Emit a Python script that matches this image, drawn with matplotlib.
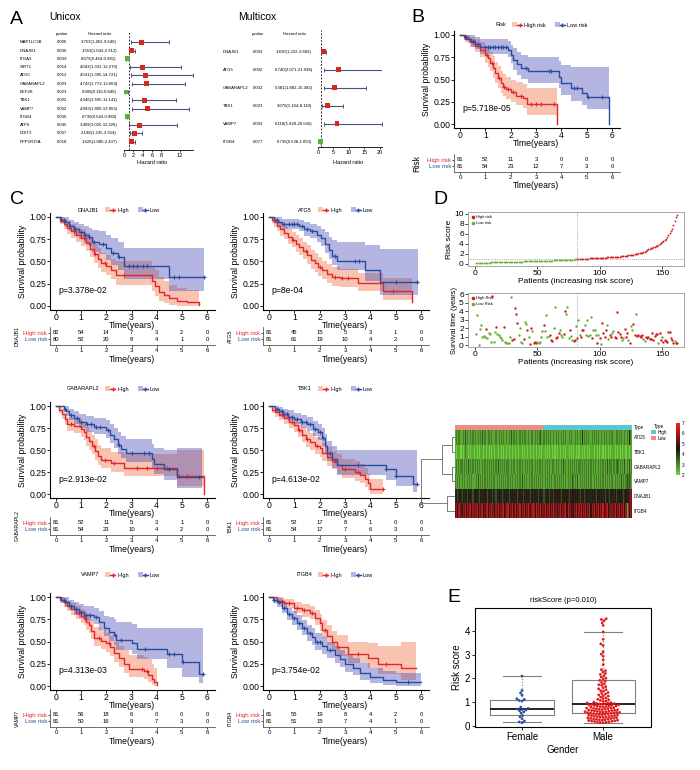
import numpy as np
import matplotlib
matplotlib.use('Agg')
import matplotlib.pyplot as plt
import matplotlib.transforms as mtransforms
from matplotlib.colors import LinearSegmentedColormap, ListedColormap
from matplotlib.patches import Patch
from matplotlib.lines import Line2D
from matplotlib.legend_handler import HandlerTuple
import seaborn as sns

plt.rcParams['font.family'] = ['Liberation Sans Narrow', 'Liberation Sans', 'DejaVu Sans']

# ---------------- A: cox forest data ----------------
uni_genes = ['MAP1LC3B', 'DNAJB1', 'ITGA3', 'SIRT1', 'ATG5', 'GABARAPL2', 'EEF2K',
             'TBK1', 'VAMP7', 'ITGB4', 'ATF6', 'DDIT3', 'PPP1R15A']
uni_p = ['0.006', '0.030', '0.039', '0.014', '0.012', '0.003', '0.023',
         '0.002', '0.002', '0.036', '0.045', '0.007', '0.018']
uni_hr = [3.753, 1.553, 0.675, 4.043, 4.531, 4.742, 0.305, 4.346, 4.993, 0.730, 3.409, 2.198, 1.626]
uni_lo = [1.462, 1.043, 0.464, 1.332, 1.395, 1.772, 0.110, 1.695, 1.800, 0.543, 1.026, 1.235, 1.085]
uni_hi = [9.646, 2.312, 0.981, 12.270, 14.721, 13.064, 0.846, 11.141, 13.853, 0.980, 11.326, 3.914, 2.437]

multi_genes = ['DNAJB1', 'ATG5', 'GABARAPL2', 'TBK1', 'VAMP7', 'ITGB4']
multi_p = ['0.003', '0.002', '0.002', '0.023', '0.003', '0.077']
multi_hr = [1.810, 6.740, 5.381, 3.070, 6.118, 0.735]
multi_lo = [1.222, 2.071, 1.882, 1.164, 1.820, 0.538]
multi_hi = [2.683, 21.938, 15.382, 8.110, 20.566, 1.050]

# ---------------- B / C: Kaplan-Meier data ----------------
b_high = dict(t=[0, .2, .4, .6, .8, 1.0, 1.1, 1.2, 1.3, 1.4, 1.5, 1.6, 1.7, 1.8, 2.0, 2.2, 2.5, 2.65, 3.82],
              s=[1, .96, .92, .88, .83, .78, .74, .69, .63, .57, .52, .46, .42, .39, .36, .32, .29, .22, 0],
              lo=[1, .92, .86, .81, .75, .69, .64, .59, .52, .46, .41, .35, .31, .28, .25, .21, .18, .10, 0],
              hi=[1, 1, .98, .96, .92, .88, .85, .81, .76, .70, .65, .60, .56, .53, .50, .47, .45, .40, 0],
              cens=[.5, 1.05, 1.25, 1.55, 1.75, 1.9, 2.1, 2.4, 2.8, 3.0, 3.2, 3.7])
b_low = dict(t=[0, .15, .3, .45, .6, .8, 1.9, 2.0, 2.1, 2.25, 2.4, 2.7, 3.9, 4.0, 4.4, 4.8, 5.0, 5.87],
             s=[1, .98, .96, .93, .9, .86, .83, .78, .72, .67, .63, .59, .53, .46, .40, .35, .30, 0],
             lo=[1, .94, .91, .87, .84, .79, .75, .68, .61, .55, .51, .46, .40, .33, .26, .21, .17, 0],
             hi=[1, 1, 1, 1, .98, .95, .93, .89, .85, .81, .78, .75, .71, .66, .64, .64, .64, 0],
             cens=[.25, .5, .7, 1.0, 1.1, 1.2, 1.3, 1.4, 1.5, 1.6, 1.7, 1.8, 2.6, 3.5, 3.6, 4.5, 4.6, 5.05, 5.6])
b_n_high = [81, 52, 11, 3, 0, 0, 0]
b_n_low = [81, 54, 23, 12, 7, 3, 0]

dnajb1_high = dict(t=[0, .15, .3, .45, .6, .8, 1.0, 1.2, 1.35, 1.5, 1.65, 1.8, 2.0, 2.2, 2.4, 3.8, 3.95, 4.1, 4.3, 4.5, 4.8, 5.2, 5.7],
                   s=[1, .96, .92, .88, .84, .8, .76, .71, .64, .58, .53, .48, .45, .4, .35, .28, .22, .16, .12, .09, .06, .04, .01],
                   lo=[1, .92, .86, .81, .76, .72, .67, .62, .55, .48, .43, .38, .35, .30, .24, .17, .11, .06, .03, .01, 0, 0, 0],
                   hi=[1, 1, .98, .95, .92, .89, .86, .82, .76, .70, .65, .60, .57, .53, .50, .45, .40, .33, .28, .24, .20, .18, 0],
                   cens=[.7, 1.1, 1.3, 1.55, 1.95, 2.7])
dnajb1_low = dict(t=[0, .2, .35, .5, .7, .9, 1.1, 1.3, 1.45, 1.7, 2.0, 2.2, 2.45, 2.7, 4.5, 5.9],
                  s=[1, .97, .94, .9, .86, .83, .8, .77, .72, .7, .65, .6, .55, .45, .33, .33],
                  lo=[1, .93, .89, .84, .79, .75, .71, .67, .61, .58, .52, .46, .40, .30, .17, .17],
                  hi=[1, 1, 1, .97, .94, .92, .9, .88, .85, .84, .8, .76, .72, .65, .65, .65],
                  cens=[.3, .55, .75, 1.0, 1.15, 1.3, 1.5, 1.85, 2.25, 2.5, 2.9, 3.05, 3.2, 3.45, 3.6, 4.7, 4.9, 5.9])
dnajb1_n_high = [82, 54, 14, 7, 3, 2, 0]
dnajb1_n_low = [80, 52, 20, 8, 4, 1, 0]

atg5_high = dict(t=[0, .1, .2, .3, .45, .6, .75, .9, 1.05, 1.2, 1.35, 1.5, 1.65, 1.8, 1.95, 2.1, 2.3, 2.5, 2.8, 3.5, 4.5, 5.65],
                 s=[1, .97, .94, .9, .86, .82, .78, .74, .7, .66, .62, .57, .52, .48, .44, .4, .36, .33, .31, .26, .17, .04],
                 lo=[1, .93, .89, .84, .79, .75, .7, .66, .61, .57, .53, .47, .42, .38, .34, .3, .26, .23, .21, .17, .07, 0],
                 hi=[1, 1, .99, .96, .93, .9, .86, .83, .8, .76, .72, .68, .63, .59, .55, .51, .47, .44, .42, .37, .32, 0],
                 cens=[.95, 1.45, 2.0, 2.6, 2.9, 3.1, 4.9])
atg5_low = dict(t=[0, .2, .35, .5, 1.2, 1.4, 1.6, 1.9, 2.05, 2.2, 2.35, 2.5, 2.7, 3.8, 4.4, 5.9],
                s=[1, .97, .94, .92, .9, .86, .84, .8, .76, .7, .63, .56, .5, .4, .27, .27],
                lo=[1, .93, .89, .86, .84, .79, .76, .72, .67, .6, .53, .46, .4, .28, .12, .12],
                hi=[1, 1, 1, .98, .97, .94, .92, .9, .87, .83, .78, .74, .72, .68, .64, .64],
                cens=[.3, .6, .8, .9, 1.0, 1.1, 1.3, 1.5, 1.7, 2.6, 3.4, 3.55, 5.0, 5.85])
atg5_n_high = [81, 45, 15, 5, 3, 1, 0]
atg5_n_low = [81, 61, 19, 10, 4, 2, 0]

gab_high = dict(t=[0, .1, .25, .35, .45, .7, 1.0, 1.1, 1.2, 1.3, 1.45, 1.55, 1.65, 1.8, 2.2, 2.7, 4.8, 5.9],
                s=[1, .96, .91, .85, .8, .77, .74, .7, .65, .6, .55, .49, .43, .39, .35, .3, .2, 0],
                lo=[1, .92, .85, .78, .72, .69, .65, .61, .55, .5, .45, .39, .33, .29, .25, .2, .09, 0],
                hi=[1, 1, .97, .92, .88, .86, .83, .8, .76, .72, .67, .62, .56, .52, .48, .45, .5, 0],
                cens=[.6, 1.5, 1.95, 2.3, 3.2, 3.6, 4.0, 4.4, 4.9, 5.2])
gab_low = dict(t=[0, .3, .4, .5, .7, .9, 1.2, 1.5, 2.0, 2.15, 2.3, 2.45, 2.6, 2.8, 3.8, 3.9, 4.3, 4.8, 5.8],
               s=[1, .97, .94, .9, .86, .82, .79, .76, .73, .67, .62, .56, .51, .47, .4, .34, .28, .19, .19],
               lo=[1, .93, .89, .84, .79, .75, .71, .68, .64, .58, .52, .46, .41, .36, .29, .23, .16, .07, .07],
               hi=[1, 1, 1, .97, .94, .91, .89, .86, .84, .79, .75, .7, .66, .62, .57, .52, .5, .52, .52],
               cens=[.35, .6, .85, 1.0, 1.25, 1.4, 1.6, 1.75, 2.05, 2.5, 3.0, 3.5, 3.7, 4.5, 5.7])
gab_n_high = [81, 52, 11, 5, 3, 1, 0]
gab_n_low = [81, 54, 23, 10, 4, 2, 0]

tbk1_high = dict(t=[0, .1, .25, .4, .6, .8, 1.0, 1.15, 1.3, 1.45, 1.6, 1.8, 2.0, 2.1, 2.3, 2.5, 2.7, 2.9, 3.4, 3.6, 3.8, 3.9, 4.0, 4.5],
                 s=[1, .96, .93, .9, .86, .82, .78, .73, .67, .62, .59, .55, .52, .47, .42, .38, .33, .28, .25, .22, .17, .12, .06, .06],
                 lo=[1, .92, .88, .84, .8, .75, .71, .65, .59, .53, .5, .46, .42, .37, .32, .28, .23, .18, .15, .12, .08, .04, 0, 0],
                 hi=[1, 1, .98, .96, .93, .89, .86, .82, .76, .72, .69, .65, .62, .58, .53, .49, .45, .4, .37, .34, .29, .23, .17, .17],
                 cens=[.5, .9, 1.2, 1.5, 1.9, 2.6, 3.0, 3.5, 4.5])
tbk1_low = dict(t=[0, .25, .4, .55, .75, 1.0, 1.25, 1.5, 1.75, 1.95, 2.1, 2.2, 2.3, 2.5, 2.7, 4.6, 5.0, 5.7, 5.85],
                s=[1, .97, .94, .91, .88, .85, .82, .79, .74, .7, .64, .55, .47, .4, .33, .28, .21, .11, .11],
                lo=[1, .93, .9, .86, .83, .79, .75, .72, .66, .61, .55, .45, .37, .3, .22, .16, .09, .02, .02],
                hi=[1, 1, .99, .97, .95, .92, .9, .87, .83, .8, .75, .68, .6, .54, .5, .5, .5, .5, .5],
                cens=[.3, .5, .7, .9, 1.1, 1.3, 1.45, 1.6, 1.8, 2.0, 2.15, 2.4, 3.5, 4.6, 5.0, 5.85])
tbk1_n_high = [81, 52, 17, 8, 1, 0, 0]
tbk1_n_low = [81, 54, 17, 7, 6, 3, 0]

vamp7_high = dict(t=[0, .15, .3, .45, .6, .8, 1.0, 1.1, 1.2, 1.3, 1.4, 1.5, 1.8, 2.0, 2.15, 2.3, 2.5, 2.7, 2.9, 3.5, 3.65, 3.8, 3.9, 4.0],
                  s=[1, .97, .94, .9, .86, .82, .79, .76, .72, .68, .62, .54, .51, .48, .44, .37, .31, .25, .19, .17, .12, .08, .04, .01],
                  lo=[1, .93, .89, .84, .8, .75, .71, .68, .63, .59, .53, .45, .42, .38, .34, .27, .21, .15, .1, .08, .04, .01, 0, 0],
                  hi=[1, 1, .99, .96, .93, .9, .87, .85, .82, .78, .73, .66, .63, .6, .56, .5, .45, .4, .35, .33, .3, .25, .2, 0],
                  cens=[.35, .9, 1.15, 1.7, 2.1, 3.4, 3.6])
vamp7_low = dict(t=[0, .2, .35, .5, .7, .9, 1.1, 1.5, 1.7, 1.9, 2.1, 2.3, 2.4, 3.0, 3.2, 4.4, 5.0, 5.7, 5.85],
                 s=[1, .97, .94, .9, .86, .83, .8, .78, .72, .65, .61, .57, .52, .48, .42, .36, .27, .14, .14],
                 lo=[1, .93, .89, .85, .8, .76, .73, .7, .63, .56, .51, .46, .41, .36, .3, .2, .1, .03, .03],
                 hi=[1, 1, 1, .97, .94, .92, .9, .88, .84, .79, .77, .75, .72, .7, .65, .65, .65, .65, .65],
                 cens=[.3, .6, .8, 1.0, 1.2, 1.35, 1.6, 2.35, 2.6, 3.55, 4.5, 4.7, 5.05, 5.85])
vamp7_n_high = [81, 56, 18, 6, 0, 0, 0]
vamp7_n_low = [81, 50, 16, 9, 7, 3, 0]

itgb4_high = dict(t=[0, .3, .6, 1.0, 1.3, 1.6, 1.8, 2.0, 2.1, 2.3, 2.5, 2.7, 3.1, 3.9, 4.3, 5.2, 5.8],
                  s=[1, .96, .93, .88, .85, .82, .76, .71, .63, .56, .49, .44, .36, .31, .25, .2, .2],
                  lo=[1, .92, .88, .82, .78, .75, .68, .62, .54, .46, .39, .34, .26, .2, .13, .07, .07],
                  hi=[1, 1, .98, .94, .92, .9, .85, .81, .74, .68, .62, .57, .5, .48, .45, .5, .5],
                  cens=[.5, .8, 1.1, 1.4, 1.7, 2.2, 3.5, 4.6])
itgb4_low = dict(t=[0, .15, .3, .5, .7, .9, 1.1, 1.3, 1.5, 1.7, 1.8, 2.1, 2.3, 2.6, 2.8, 3.0, 3.3, 3.6, 4.0, 4.5, 5.0, 6.0],
                 s=[1, .97, .94, .88, .81, .76, .71, .65, .6, .55, .5, .45, .4, .35, .3, .25, .2, .15, .1, .07, .05, .05],
                 lo=[1, .93, .89, .82, .74, .68, .63, .57, .51, .46, .41, .36, .31, .26, .21, .16, .12, .07, .03, .01, 0, 0],
                 hi=[1, 1, .99, .94, .88, .84, .8, .74, .69, .65, .6, .55, .5, .45, .4, .36, .31, .26, .2, .17, .15, .15],
                 cens=[.2, .4, .6, .8, 1.0, 1.2, 1.4, 1.6, 1.9, 2.0, 2.4, 5.5])
itgb4_n_high = [81, 55, 19, 8, 4, 2, 0]
itgb4_n_low = [81, 51, 15, 7, 4, 1, 0]

# ---------------- D: risk score / survival status / heatmap ----------------
risk_score = [0.12, 0.15, 0.17, 0.19, 0.21, 0.22, 0.24, 0.25, 0.26, 0.28,
              0.29, 0.30, 0.31, 0.32, 0.33, 0.34, 0.35, 0.36, 0.36, 0.37,
              0.38, 0.39, 0.40, 0.40, 0.41, 0.42, 0.43, 0.43, 0.44, 0.45,
              0.46, 0.46, 0.47, 0.48, 0.48, 0.49, 0.50, 0.50, 0.51, 0.52,
              0.53, 0.53, 0.54, 0.55, 0.55, 0.56, 0.57, 0.58, 0.58, 0.59,
              0.60, 0.61, 0.62, 0.62, 0.63, 0.64, 0.65, 0.66, 0.67, 0.68,
              0.69, 0.70, 0.71, 0.72, 0.73, 0.74, 0.75, 0.76, 0.77, 0.78,
              0.79, 0.80, 0.82, 0.83, 0.84, 0.86, 0.87, 0.89, 0.90, 0.92, 0.94,
              0.96, 0.98, 1.00, 1.01, 1.03, 1.04, 1.06, 1.07, 1.08,
              1.10, 1.11, 1.12, 1.14, 1.15, 1.16, 1.18, 1.19, 1.20, 1.22,
              1.23, 1.25, 1.26, 1.28, 1.29, 1.31, 1.32, 1.34, 1.36, 1.38,
              1.40, 1.42, 1.44, 1.46, 1.48, 1.50, 1.52, 1.55, 1.58, 1.61,
              1.64, 1.68, 1.72, 1.76, 1.80, 1.85, 1.90, 1.96, 2.02, 2.08,
              2.14, 2.20, 2.26, 2.30, 2.35, 2.45, 2.60, 2.85, 3.00, 3.10,
              3.20, 3.30, 3.40, 3.50, 3.60, 3.70, 3.85, 4.00, 4.20, 4.40,
              4.60, 4.80, 5.10, 5.40, 5.80, 6.20, 6.60, 7.10, 7.80, 8.60,
              9.50, 9.90]
n_low_group = 81
risk_cutoff = 0.95

surv_time = [1.24, 3.5, 0.02, 1.9, 2.3, 1.0, 1.05, 0.97, 1.9, 0.8, 1.36, 1.24, 0.35, 5.8, 0.4, 1.5, 2.1, 1.3, 1.15, 0.97,
             0.8, 0.6, 2.1, 0.4, 0.27, 0.2, 0.27, 0.97, 5.6, 0.6, 0.65, 4.3, 3.7, 2.6, 1.15, 2.0, 0.4, 0.27, 0.65, 2.7,
             2.5, 1.8, 0.97, 0.1, 2.0, 1.6, 0.27, 0.3, 0.27, 0.3, 0.2, 0.4, 0.97, 1.6, 2.3, 1.6, 3.5, 0.97, 1.05, 1.15,
             0.6, 0.5, 2.0, 4.5, 0.8, 0.97, 1.36, 1.8, 1.15, 0.97, 1.24, 4.0, 3.6, 4.5, 0.8, 1.8, 1.1, 0.6, 0.45, 0.6,
             2.2, 0.8, 2.9, 1.15, 0.97, 1.75, 1.8, 2.3, 1.15, 2.9, 1.1, 1.15, 3.3, 0.8, 1.75, 1.8, 1.15, 0.2, 1.15, 0.8,
             0.1, 2.6, 1.4, 0.9, 1.75, 2.3, 0.65, 1.15, 0.97, 1.4, 1.6, 0.97, 0.8, 3.85, 1.55, 1.24, 0.97, 0.6, 0.8, 1.9,
             0.97, 1.4, 0.6, 0.2, 2.2, 1.8, 2.5, 1.15, 3.7, 1.1, 1.15, 1.1, 1.0, 1.15, 0.65, 0.45, 0.97, 0.8, 0.97, 0.7,
             0.65, 1.36, 0.6, 1.1, 1.3, 1.24, 0.27, 1.4, 0.6, 0.97, 0.4, 0.6, 0.5, 0.4, 1.55, 1.55, 0.8, 0.6, 0.27, 0.45,
             0.2, 0.2]
surv_dead = [0, 0, 0, 0, 0, 0, 0, 0, 1, 0, 0, 0, 0, 1, 0, 0, 1, 0, 0, 0,
             0, 0, 1, 0, 0, 0, 0, 0, 0, 1, 1, 1, 1, 1, 0, 0, 0, 0, 1, 0,
             0, 1, 0, 1, 1, 0, 1, 1, 1, 0, 0, 0, 0, 0, 1, 0, 0, 0, 0, 1,
             1, 1, 0, 0, 1, 1, 1, 0, 0, 0, 1, 1, 0, 0, 0, 1, 0, 0, 1, 1,
             0, 1, 0, 0, 1, 1, 1, 0, 0, 0, 0, 0, 0, 1, 0, 0, 0, 1, 0, 1,
             0, 1, 1, 1, 1, 0, 0, 1, 1, 0, 0, 1, 1, 1, 1, 1, 1, 0, 0, 1,
             1, 1, 0, 1, 0, 0, 1, 1, 0, 1, 1, 1, 1, 1, 0, 0, 1, 1, 1, 1,
             1, 1, 1, 1, 1, 1, 0, 1, 1, 0, 1, 1, 1, 1, 1, 1, 1, 1, 1, 0,
             1, 1]

heat_genes = ['ATG5', 'TBK1', 'GABARAPL2', 'VAMP7', 'DNAJB1', 'ITGB4']
# expression level per patient, one digit per patient (0 = 2.0 ... 9 = 7.0)
heat_rows = [
    '121221121312112121' '211212131211221211' '121121212112121312' '212112121221121121' '121212311212121211'
    '212121121212112121' '112121214121212112' '121212112121211212' '211221212112121421',
    '101110101211010110' '110101110101101011' '011011010110101101' '101101101011011010' '110110101101010110'
    '101011011010110101' '011010110101101011' '101101011010110101' '110101101011011011',
    '121212212121312121' '212121121212121212' '121312121212211212' '211212121121212121' '121212212121212112'
    '212121121312121212' '121212212121212121' '212112121212131222' '121232121213121312',
    '212121212112121211' '121312121212121212' '212121212121212121' '121212131212112121' '212121212121212121'
    '121212121212121213' '212131212121212121' '121212121212121212' '212121213121232321',
    '453454354453545435' '545435454543454535' '435454534545435454' '545345453545454354' '454535454345453545'
    '354545435454543545' '545454354535454545' '454354545453454354' '545354545434545676',
    '675786576857678576' '768576785678576867' '576857678567857685' '685768576857686578' '758676857685768576'
    '867576857678586756' '576857685768576857' '685768576856785676' '768576857685718576',
]
# row clustering: (child a, child b, height); leaves 0-5, new clusters 6..
dendro_merges = [(0, 1, 3), (2, 3, 3.5), (6, 7, 13), (4, 5, 8), (8, 9, 34)]

# ---------------- E: risk score by gender ----------------
female_scores = [2.1, 1.5, 1.4, 1.3, 1.15, 1.12, 1.08, 1.05, 0.8, 0.75, 0.72,
                 0.7, 0.68, 0.65, 0.6, 0.55, 0.45, 0.4, 0.32, 0.22, 0.18, 0.15]
male_scores = [4.50, 4.47, 4.42, 4.33, 4.22, 3.95, 3.64, 3.45, 3.38, 3.12, 3.02, 2.93, 2.78, 2.58,
               2.37, 2.33, 2.27, 2.21, 2.17, 2.11, 2.06, 2.01, 1.97, 1.92, 1.88, 1.83, 1.77, 1.74,
               1.71, 1.66, 1.61, 1.57, 1.53, 1.49, 1.47, 1.41, 1.38, 1.35, 1.31, 1.28, 1.26, 1.22,
               1.19, 1.16, 1.13, 1.11, 1.08, 1.06, 1.04, 1.01, 0.99, 0.98, 0.96, 0.95, 0.94, 0.92,
               0.91, 0.89, 0.88, 0.87, 0.85, 0.84, 0.83, 0.81, 0.80, 0.78, 0.77, 0.76, 0.74, 0.73,
               0.72, 0.70, 0.69, 0.68, 0.67, 0.66, 0.64, 0.63, 0.62, 0.61, 0.60, 0.59, 0.58, 0.57,
               0.56, 0.55, 0.54, 0.53, 0.52, 0.51, 0.50, 0.49, 0.48, 0.47, 0.46, 0.45, 0.44, 0.43,
               0.42, 0.41, 0.40, 0.39, 0.38, 0.37, 0.36, 0.35, 0.34, 0.33, 0.32, 0.31, 0.30, 0.29,
               0.28, 0.27, 0.26, 0.25, 0.24, 0.23, 0.22, 0.21, 0.20, 0.19, 0.18, 0.17, 0.16, 0.15,
               0.58, 0.61, 0.66, 0.71, 0.75, 0.82, 0.86, 0.90, 0.93, 0.97]
box_stats = [dict(med=0.72, q1=0.48, q3=1.10, whislo=0.17, whishi=2.10, fliers=[]),
             dict(med=0.95, q1=0.57, q3=1.93, whislo=0.15, whishi=3.95, fliers=[])]

RED, BLUE = '#e3262b', '#2b4c9e'
RED_BAND, BLUE_BAND = '#ef6a3c', '#4646b4'
D_RED, D_GREEN = '#d7191c', '#66b032'

W, H = 700, 770
fig = plt.figure(figsize=(W / 100, H / 100), dpi=100)


def px_axes(x0, y0, x1, y1):
    return fig.add_axes([x0 / W, 1 - y1 / H, (x1 - x0) / W, (y1 - y0) / H])


def px_text(x, y, s, **kw):
    return fig.text(x / W, 1 - y / H, s, **kw)


# ---------------- panel A ----------------
def forest(x0, x1, y_first, y_step, y_axis, xmax, ticks, genes, pvals, hr, lo, hi,
           gene_x, p_x, hr_x, lab_x):
    ax = px_axes(x0, y_first - 6, x1, y_axis)
    hr, lo, hi = np.array(hr), np.array(lo), np.array(hi)
    rows = np.arange(len(genes))
    bottom = (y_axis - y_first) / y_step
    head = (34 - y_first) / y_step
    ax.set_xlim(0, xmax)
    ax.set_ylim(bottom, -6 / y_step)
    ax.errorbar(hr, rows, xerr=[hr - lo, hi - hr], fmt='none', ecolor='#4a5185',
                elinewidth=0.8, capsize=1.5, capthick=0.7)
    ax.scatter(hr, rows, marker='s', s=12, c=np.where(hr > 1, '#d7261e', '#5db234'), zorder=3, lw=0)
    ax.plot([1, 1], [bottom, head - 0.2], ls=(0, (2, 1.5)), color='#333333', lw=0.7, clip_on=False)
    for sp in ['left', 'top', 'right']:
        ax.spines[sp].set_visible(False)
    ax.spines['bottom'].set_linewidth(0.6)
    ax.set_yticks([])
    ax.set_xticks(ticks)
    ax.tick_params(axis='x', labelsize=4, length=1.5, width=0.5, pad=1)
    tr = mtransforms.blended_transform_factory(fig.transFigure, ax.transData)
    for i in rows:
        kw = dict(transform=tr, fontsize=3.1, va='center')
        ax.text(gene_x / W, i, genes[i], ha='left', **kw)
        ax.text(p_x / W, i, pvals[i], ha='center', **kw)
        ax.text(hr_x / W, i, f'{hr[i]:.3f}({lo[i]:.3f}-{hi[i]:.3f})', ha='center', **kw)
    ax.text(p_x / W, head, 'pvalue', transform=tr, fontsize=3.1, ha='center', va='center')
    ax.text(hr_x / W, head, 'Hazard ratio', transform=tr, fontsize=3.1, ha='center', va='center')
    px_text(lab_x, 163, 'Hazard ratio', fontsize=4, ha='center', va='center')


px_text(10, 19, 'A', fontsize=14, va='center')
px_text(65, 17, 'Unicox', fontsize=7.5, ha='center', va='center')
px_text(257, 17, 'Multicox', fontsize=7.5, ha='center', va='center')
forest(124, 193, 42.3, 8.28, 150, 14.8, [0, 2, 4, 6, 8, 12], uni_genes, uni_p,
       uni_hr, uni_lo, uni_hi, 20, 62, 99, 152)
forest(318, 381.5, 51.7, 18.0, 147, 20.5, [0, 5, 10, 15, 20], multi_genes, multi_p,
       multi_hr, multi_lo, multi_hi, 223, 258, 294, 348)


# ---------------- KM helpers ----------------
def draw_curve(ax, c, color, band):
    t, s = np.array(c['t']), np.array(c['s'])
    ax.fill_between(t, c['lo'], c['hi'], step='post', color=band, alpha=0.4, lw=0)
    ax.step(t, s, where='post', color=color, lw=1.0)
    ct = np.array(c['cens'])
    cs = s[np.searchsorted(t, ct, side='right') - 1]
    ax.plot(ct, cs, '+', color=color, ms=3, mew=0.8, ls='none')


def km_block(t0, t6, y1, y0, high, low, ptxt, leg_y, leg_title, leg_labels, key_off,
             tab_axis, n_high, n_low, tab_title, tab_title_size, tab_title_off):
    kx = (t6 - t0) / 6.0
    ky = y0 - y1
    xl = (-0.22, 6.3)
    left, right = t0 + xl[0] * kx, t0 + xl[1] * kx
    bottom = y0 + 0.04 * ky
    ax = px_axes(left, y1 - 0.04 * ky, right, bottom)
    ax.set_xlim(*xl)
    ax.set_ylim(-0.04, 1.04)
    draw_curve(ax, high, RED, RED_BAND)
    draw_curve(ax, low, BLUE, BLUE_BAND)
    ax.set_xticks(range(7))
    ax.set_yticks([0, 0.25, 0.5, 0.75, 1.0])
    ax.set_yticklabels(['0.00', '0.25', '0.50', '0.75', '1.00'])
    ax.tick_params(labelsize=6.2, length=2, width=0.6, pad=0.8)
    for sp in ['top', 'right']:
        ax.spines[sp].set_visible(False)
    for sp in ['left', 'bottom']:
        ax.spines[sp].set_linewidth(0.8)
    ax.set_ylabel('Survival probability', fontsize=6.2, labelpad=2)
    px_text(t0 + 3 * kx, bottom + 16, 'Time(years)', fontsize=6.2, ha='center', va='center')
    ax.text(0.1, 0.17, ptxt, fontsize=6.2, va='center')

    handles = [(Patch(facecolor=RED_BAND, alpha=0.4, lw=0), Line2D([], [], color=RED, marker='+', ms=3, lw=1)),
               (Patch(facecolor=BLUE_BAND, alpha=0.4, lw=0), Line2D([], [], color=BLUE, marker='+', ms=3, lw=1))]
    kx0 = t0 + key_off
    fig.legend(handles, leg_labels, handler_map={tuple: HandlerTuple(ndivide=None, pad=0)},
               ncol=2, loc='center left', bbox_to_anchor=(kx0 / W, 1 - leg_y / H), frameon=False,
               fontsize=4, handlelength=1.8, handleheight=1.0, columnspacing=1.6,
               handletextpad=0.4, borderpad=0, borderaxespad=0)
    px_text(kx0 - 6, leg_y, leg_title, fontsize=4, ha='right', va='center')

    tab = px_axes(left, tab_axis - 18, right, tab_axis)
    tab.set_xlim(*xl)
    tab.set_ylim(0, 1)
    for i in range(7):
        tab.text(i, 0.67, str(n_high[i]), ha='center', va='center', fontsize=4.2)
        tab.text(i, 0.33, str(n_low[i]), ha='center', va='center', fontsize=4.2)
    tab.set_yticks([0.67, 0.33])
    tab.set_yticklabels(['High risk', 'Low risk'])
    tab.get_yticklabels()[0].set_color(RED)
    tab.get_yticklabels()[1].set_color(BLUE)
    tab.set_xticks(range(7))
    tab.tick_params(labelsize=4.4, length=1.5, width=0.5, pad=1)
    for sp in ['top', 'right']:
        tab.spines[sp].set_visible(False)
    for sp in ['left', 'bottom']:
        tab.spines[sp].set_linewidth(0.6)
        tab.spines[sp].set_color('#555555')
    px_text(t0 + 3 * kx, tab_axis + 14, 'Time(years)', fontsize=6.2, ha='center', va='center')
    px_text(left - tab_title_off, tab_axis - 9, tab_title, fontsize=tab_title_size,
            rotation=90, ha='center', va='center')


# ---------------- panel B ----------------
px_text(411, 17, 'B', fontsize=14, va='center')
km_block(460, 612, 35, 124, b_high, b_low, 'p=5.718e-05', 25, 'Risk', ['High risk', 'Low risk'], 52,
         172, b_n_high, b_n_low, 'Risk', 6.2, 38)

# ---------------- panel C ----------------
px_text(10, 200, 'C', fontsize=14, va='center')
c_left, c_right = (56, 207), (269, 421)
c_rows = [(217, 306, 210, 345), (406, 494, 389, 535), (597, 686, 575, 727)]
c_panels = [
    (c_left, 0, dnajb1_high, dnajb1_low, 'p=3.378e-02', 'DNAJB1', dnajb1_n_high, dnajb1_n_low),
    (c_right, 0, atg5_high, atg5_low, 'p=8e-04', 'ATG5', atg5_n_high, atg5_n_low),
    (c_left, 1, gab_high, gab_low, 'p=2.913e-02', 'GABARAPL2', gab_n_high, gab_n_low),
    (c_right, 1, tbk1_high, tbk1_low, 'p=4.613e-02', 'TBK1', tbk1_n_high, tbk1_n_low),
    (c_left, 2, vamp7_high, vamp7_low, 'p=4.313e-03', 'VAMP7', vamp7_n_high, vamp7_n_low),
    (c_right, 2, itgb4_high, itgb4_low, 'p=3.754e-02', 'ITGB4', itgb4_n_high, itgb4_n_low),
]
for (tx0, tx6), r, hi_c, lo_c, ptxt, gene, nh, nl in c_panels:
    y1, y0, ly, tax = c_rows[r]
    km_block(tx0, tx6, y1, y0, hi_c, lo_c, ptxt, ly, gene, ['High', 'Low'], 49,
             tax, nh, nl, gene, 3.8, 33)

# ---------------- panel D ----------------
px_text(433, 200, 'D', fontsize=14, va='center')
n_pat = len(risk_score)
pat = np.arange(1, n_pat + 1)
score = np.array(risk_score)

ax = px_axes(468, 212, 684, 266)
ax.plot(pat[:n_low_group], score[:n_low_group], 'o', color=D_GREEN, ms=1.3, mew=0)
ax.plot(pat[n_low_group:], score[n_low_group:], 'o', color=D_RED, ms=1.3, mew=0)
ax.axvline(n_low_group + 0.5, color='#888888', ls=':', lw=0.6)
ax.axhline(risk_cutoff, color='#888888', ls=':', lw=0.6)
ax.set_xlim(-5.6, 167.6)
ax.set_ylim(-0.4, 10.4)
ax.set_yticks([0, 2, 4, 6, 8, 10])
ax.set_xticks([0, 50, 100, 150])
ax.set_xlabel('Patients (increasing risk score)', fontsize=6, labelpad=0.5)
ax.set_ylabel('Risk score', fontsize=6, labelpad=1)
ax.tick_params(labelsize=6, length=2, width=0.5, pad=1)
for sp in ax.spines.values():
    sp.set_color('#999999')
    sp.set_linewidth(0.6)
ax.legend(handles=[Line2D([], [], marker='o', ls='none', color=D_RED, ms=1.6, label='High risk'),
                   Line2D([], [], marker='o', ls='none', color=D_GREEN, ms=1.6, label='Low risk')],
          loc='upper left', fontsize=3, frameon=False, handletextpad=0.1, borderpad=0.3,
          labelspacing=0.4, handlelength=1)

ax = px_axes(468, 293, 684, 347)
dead = np.array(surv_dead) == 1
times = np.array(surv_time)
ax.scatter(pat[dead], times[dead], s=3, color=D_RED, lw=0)
ax.scatter(pat[~dead], times[~dead], s=3, color=D_GREEN, lw=0)
ax.axvline(n_low_group + 0.5, color='#888888', ls=':', lw=0.6)
ax.set_xlim(-5.6, 167.6)
ax.set_ylim(-0.235, 6.12)
ax.set_yticks(range(7))
ax.set_xticks([0, 50, 100, 150])
ax.set_xlabel('Patients (increasing risk score)', fontsize=6, labelpad=0.5)
ax.set_ylabel('Survival time (years)', fontsize=5.3, labelpad=1)
ax.tick_params(labelsize=6, length=2, width=0.5, pad=1)
for sp in ax.spines.values():
    sp.set_color('#999999')
    sp.set_linewidth(0.6)
ax.legend(handles=[Line2D([], [], marker='o', ls='none', color=D_RED, ms=1.6, label='High Risk'),
                   Line2D([], [], marker='o', ls='none', color=D_GREEN, ms=1.6, label='Low Risk')],
          loc='upper left', fontsize=3, frameon=False, handletextpad=0.1, borderpad=0.3,
          labelspacing=0.4, handlelength=1)

# heatmap
n_col = min(len(r) for r in heat_rows)
expr = np.array([[2 + int(ch) * 5 / 9 for ch in r[:n_col]] for r in heat_rows])
heat_cmap = LinearSegmentedColormap.from_list('gbr', ['#6fd23c', '#151515', '#ff1f1f'])
hax = px_axes(455, 430, 632, 518)
im = hax.imshow(expr, aspect='auto', cmap=heat_cmap, vmin=2, vmax=7, interpolation='nearest')
hax.set_xticks([])
hax.yaxis.tick_right()
hax.set_yticks(range(len(heat_genes)))
hax.set_yticklabels(heat_genes, fontsize=3.3)
hax.tick_params(length=0, pad=1.5)
for sp in hax.spines.values():
    sp.set_visible(False)

group = np.where(np.arange(n_col) < n_col * n_low_group / n_pat, 0, 1)[None, :]
aax = px_axes(455, 425, 632, 430)
aax.imshow(group, aspect='auto', cmap=ListedColormap(['#f08a84', '#5bc8d0']), interpolation='nearest')
aax.set_xticks([])
aax.yaxis.tick_right()
aax.set_yticks([0])
aax.set_yticklabels(['Type'], fontsize=3.3)
aax.tick_params(length=0, pad=1.5)
for sp in aax.spines.values():
    sp.set_visible(False)

dax = px_axes(420, 430, 455, 518)
pos = {i: float(i) for i in range(len(heat_genes))}
hgt = {i: 0.0 for i in range(len(heat_genes))}
for k, (a, b, h) in enumerate(dendro_merges):
    nid = len(heat_genes) + k
    dax.plot([hgt[a], h, h, hgt[b]], [pos[a], pos[a], pos[b], pos[b]], color='#666666', lw=0.6)
    pos[nid] = (pos[a] + pos[b]) / 2
    hgt[nid] = h
dax.set_xlim(35, 0)
dax.set_ylim(len(heat_genes) - 0.5, -0.5)
dax.axis('off')

cax = px_axes(676, 423, 680, 475)
cb = fig.colorbar(im, cax=cax, ticks=[2, 3, 4, 5, 6, 7])
cb.outline.set_visible(False)
cb.ax.tick_params(labelsize=3.3, length=0, pad=1.5)
fig.legend(handles=[Patch(facecolor='#5bc8d0'), Patch(facecolor='#f08a84')], labels=['High', 'Low'],
           title='Type', loc='upper left', bbox_to_anchor=(651 / W, 1 - 424 / H), fontsize=3.3,
           title_fontsize=3.3, frameon=False, handlelength=1.0, handleheight=1.0,
           handletextpad=0.4, labelspacing=0.2, borderpad=0, borderaxespad=0)

# ---------------- panel E ----------------
px_text(447, 598, 'E', fontsize=14, va='center')
eax = px_axes(475, 608, 651, 727)
eax.bxp(box_stats, positions=[0, 1], widths=0.78, showfliers=False, capwidths=0.47,
        boxprops=dict(color='#808080', lw=0.8), medianprops=dict(color='#111111', lw=1.3),
        whiskerprops=dict(color='#808080', lw=0.8, ls=':'), capprops=dict(color='#808080', lw=0.8))
gender = ['Female'] * len(female_scores) + ['Male'] * len(male_scores)
sns.swarmplot(x=gender, y=female_scores + male_scores, order=['Female', 'Male'], hue=gender,
              palette={'Female': '#2c4f9e', 'Male': '#e31a1c'}, size=2.0, ax=eax, legend=False, zorder=3)
eax.set_xlim(-0.58, 1.59)
eax.set_ylim(-0.03, 4.95)
eax.set_xticks([0, 1])
eax.set_xticklabels(['Female', 'Male'], fontsize=7)
eax.set_yticks([0, 1, 2, 3, 4])
eax.tick_params(axis='y', labelsize=7)
eax.tick_params(length=2, width=0.6, pad=1.5)
for sp in eax.spines.values():
    sp.set_linewidth(0.8)
eax.set_xlabel('Gender', fontsize=7, labelpad=2)
eax.set_ylabel('Risk score', fontsize=7, labelpad=2)
eax.set_title('riskScore (p=0.010)', fontsize=5.5, pad=4)

fig.savefig('out.png', dpi=100)
